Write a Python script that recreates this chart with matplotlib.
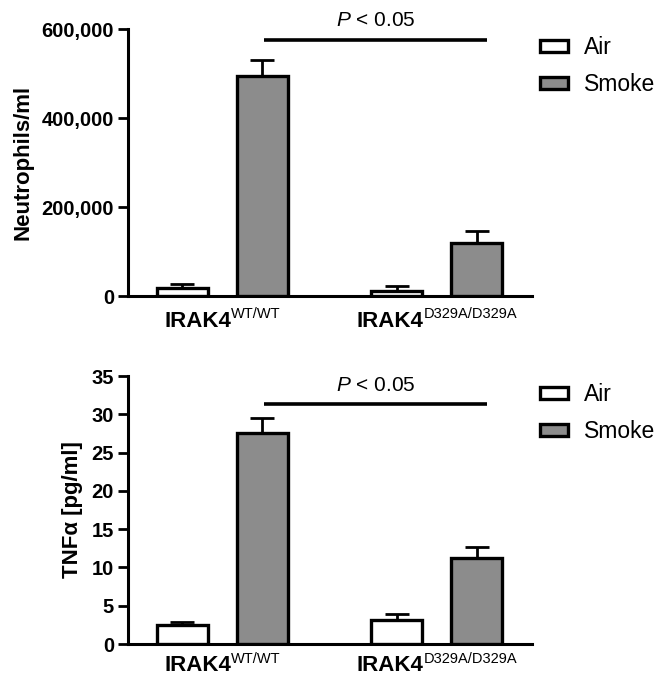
import matplotlib
matplotlib.use("Agg")
import matplotlib.pyplot as plt
from matplotlib.patches import Patch
from matplotlib.ticker import FuncFormatter
import numpy as np

plt.rcParams['font.family'] = ['Liberation Sans', 'DejaVu Sans']
plt.rcParams['mathtext.fontset'] = 'custom'
plt.rcParams['mathtext.rm'] = 'Liberation Sans'
plt.rcParams['mathtext.it'] = 'Liberation Sans:italic'

# ---- data ----
group_base = ['IRAK4', 'IRAK4']
group_sup = ['WT/WT', 'D329A/D329A']
series = ['Air', 'Smoke']
neut_air = [18000, 12000]
neut_air_err = [8500, 10000]
neut_smoke = [494000, 120000]
neut_smoke_err = [36000, 26000]
tnf_air = [2.5, 3.1]
tnf_air_err = [0.4, 0.8]
tnf_smoke = [27.6, 11.2]
tnf_smoke_err = [1.9, 1.5]
neut_ticks = [0, 200000, 400000, 600000]
tnf_ticks = [0, 5, 10, 15, 20, 25, 30, 35]
sig_text = r'$P$ < 0.05'

colors = {'Air': 'white', 'Smoke': '#8c8c8c'}

W, H = 656, 678
fig = plt.figure(figsize=(W / 100, H / 100), dpi=100)
renderer = fig.canvas.get_renderer()

group_pos = np.array([1.0, 3.68])
offset = 1.0
bw = 0.64
BASE_FS = 16
SUP_FS = 10.5


def group_label(ax, gx, base, sup, base_dy, sup_dy):
    t1 = ax.text(0, 0, base, fontsize=BASE_FS, fontweight='bold')
    t2 = ax.text(0, 0, sup, fontsize=SUP_FS)
    w1 = t1.get_window_extent(renderer).width
    w2 = t2.get_window_extent(renderer).width
    t1.remove()
    t2.remove()
    total = w1 + w2
    start = -total / 2 * 0.72
    ax.annotate(base, xy=(gx, 0), xycoords=('data', 'axes fraction'),
                xytext=(start, base_dy), textcoords='offset points', ha='left',
                va='baseline', fontsize=BASE_FS, fontweight='bold', annotation_clip=False)
    ax.annotate(sup, xy=(gx, 0), xycoords=('data', 'axes fraction'),
                xytext=(start + w1 * 0.72, sup_dy), textcoords='offset points', ha='left',
                va='baseline', fontsize=SUP_FS, annotation_clip=False)


def panel(rect, air, air_err, smoke, smoke_err, ticks, ylabel, fmt, sig_y, text_y, leg_y,
          base_dy):
    ax = fig.add_axes(rect)
    xa = group_pos
    xs = group_pos + offset
    for x, v, e, s in [(xa, air, air_err, 'Air'), (xs, smoke, smoke_err, 'Smoke')]:
        ax.bar(x, v, width=bw, color=colors[s], edgecolor='black', linewidth=2.4, zorder=3)
        ax.errorbar(x, v, yerr=[np.zeros(len(v)), e], fmt='none', ecolor='black',
                    elinewidth=2.0, capsize=8.5, capthick=2.0, zorder=2)
    ax.set_xlim(0.32, 5.37)
    ax.set_ylim(0, ticks[-1])
    ax.set_yticks(ticks)
    ax.yaxis.set_major_formatter(FuncFormatter(fmt))
    ax.set_xticks([])
    for sp in ['top', 'right']:
        ax.spines[sp].set_visible(False)
    for sp in ['left', 'bottom']:
        ax.spines[sp].set_linewidth(2.2)
    ax.tick_params(axis='y', direction='out', length=7, width=2.0, pad=3, labelsize=14.5)
    for lab in ax.get_yticklabels():
        lab.set_fontweight('bold')
    ax.set_ylabel(ylabel, fontsize=16, fontweight='bold', labelpad=6)
    for gx, b, s in zip(group_pos + offset / 2, group_base, group_sup):
        group_label(ax, gx, b, s, base_dy, base_dy + 6)
    ax.plot([2.02, 4.81], [sig_y, sig_y], color='black', lw=2.6, clip_on=False,
            solid_capstyle='butt')
    ax.text((2.02 + 4.81) / 2, text_y, sig_text, ha='center', va='center', fontsize=15,
            clip_on=False)
    handles = [Patch(facecolor=colors[s], edgecolor='black', linewidth=2.4) for s in series]
    ax.legend(handles, series, loc='upper left', bbox_to_anchor=(540 / W, leg_y),
              bbox_transform=fig.transFigure, frameon=False, fontsize=16.5,
              handlelength=1.2, handleheight=0.42, handletextpad=0.72,
              labelspacing=0.62, borderpad=0, borderaxespad=0)
    return ax


def fmt_comma(v, p):
    return f'{int(v):,}'


def fmt_int(v, p):
    return f'{int(v)}'


panel([128 / W, (H - 296) / H, 404 / W, 267 / H], neut_air, neut_air_err,
      neut_smoke, neut_smoke_err, neut_ticks, 'Neutrophils/ml', fmt_comma,
      575000, 620000, (H - 36) / H, -22)
panel([128 / W, (H - 644) / H, 404 / W, 268 / H], tnf_air, tnf_air_err,
      tnf_smoke, tnf_smoke_err, tnf_ticks, 'TNFα [pg/ml]', fmt_int,
      31.4, 33.8, (H - 383) / H, -19.5)

fig.savefig('out.png', dpi=100)
